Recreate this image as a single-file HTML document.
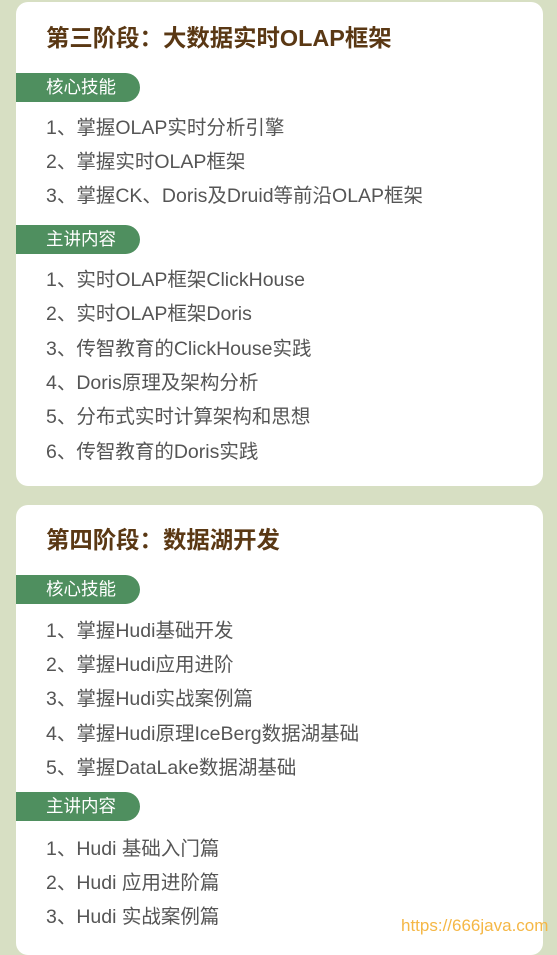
<!DOCTYPE html>
<html><head><meta charset="utf-8"><style>
body{margin:0;width:557px;height:939px;background:#d7dfc3;position:relative;overflow:hidden;font-family:"Liberation Sans","Noto Sans CJK SC",sans-serif}
.card{position:absolute;left:16px;width:527px;background:#fff;border-radius:12px}
.t{position:absolute;left:30px;font-size:23.4px;font-weight:bold;color:#5a3814;line-height:26px;font-family:"Liberation Sans","Noto Sans CJK SC",sans-serif;white-space:nowrap}
.pill{position:absolute;left:0;width:124px;height:29px;background:#4f8f5f;border-radius:0 15px 15px 0;color:#fff;font-size:17.5px;line-height:29px;padding-left:30px;box-sizing:border-box;white-space:nowrap}
.it{position:absolute;left:30px;font-size:19.5px;color:#555;line-height:24px;white-space:nowrap}
.wm{position:absolute;left:401px;top:916px;font-size:17px;color:#f5b745}
</style></head><body>
<div class="card" style="top:2px;height:484px">
<div class="t" style="top:23px">第三阶段：大数据实时OLAP框架</div>
<div class="pill" style="top:71px">核心技能</div>
<div class="it" style="top:114px">1、掌握OLAP实时分析引擎</div>
<div class="it" style="top:148px">2、掌握实时OLAP框架</div>
<div class="it" style="top:182px">3、掌握CK、Doris及Druid等前沿OLAP框架</div>
<div class="pill" style="top:223px">主讲内容</div>
<div class="it" style="top:266px">1、实时OLAP框架ClickHouse</div>
<div class="it" style="top:300px">2、实时OLAP框架Doris</div>
<div class="it" style="top:335px">3、传智教育的ClickHouse实践</div>
<div class="it" style="top:369px">4、Doris原理及架构分析</div>
<div class="it" style="top:403px">5、分布式实时计算架构和思想</div>
<div class="it" style="top:438px">6、传智教育的Doris实践</div>
</div>
<div class="card" style="top:505px;height:450px">
<div class="t" style="top:22px">第四阶段：数据湖开发</div>
<div class="pill" style="top:70px">核心技能</div>
<div class="it" style="top:114px">1、掌握Hudi基础开发</div>
<div class="it" style="top:148px">2、掌握Hudi应用进阶</div>
<div class="it" style="top:182px">3、掌握Hudi实战案例篇</div>
<div class="it" style="top:217px">4、掌握Hudi原理IceBerg数据湖基础</div>
<div class="it" style="top:251px">5、掌握DataLake数据湖基础</div>
<div class="pill" style="top:287px">主讲内容</div>
<div class="it" style="top:332px">1、Hudi 基础入门篇</div>
<div class="it" style="top:366px">2、Hudi 应用进阶篇</div>
<div class="it" style="top:400px">3、Hudi 实战案例篇</div>
</div>
<div class="wm">https://666java.com</div>
</body></html>
